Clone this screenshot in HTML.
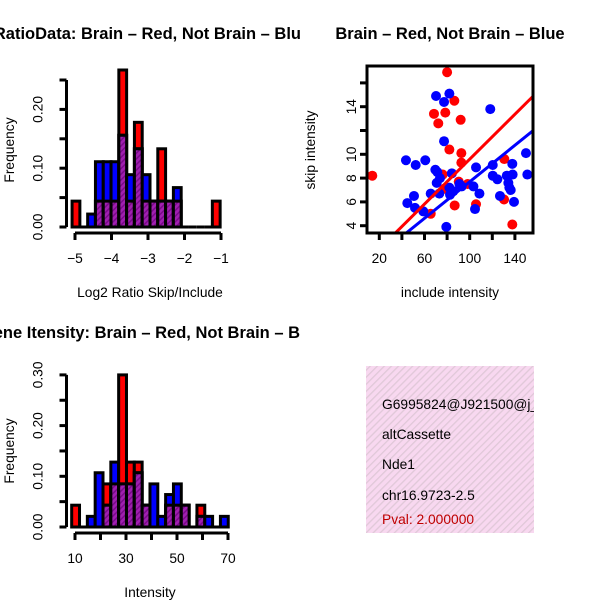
<!DOCTYPE html>
<html><head><meta charset="utf-8"><style>
html,body{margin:0;padding:0;background:#fff;}
svg{display:block;font-family:"Liberation Sans",sans-serif;}
</style></head><body>
<svg id="c" width="600" height="600" viewBox="0 0 600 600">
<defs>
<pattern id="hatchP" width="4" height="4" patternUnits="userSpaceOnUse" patternTransform="rotate(45)">
<rect width="4" height="4" fill="#a020b0"/><rect width="1.5" height="4" fill="#7a0a8a"/>
</pattern>
<pattern id="hatchPink" width="5" height="5" patternUnits="userSpaceOnUse" patternTransform="rotate(45)">
<rect width="5" height="5" fill="#f8d8f0"/><rect width="1.3" height="5" fill="#e0c8d8"/>
</pattern>
<clipPath id="scClip"><rect x="367" y="66" width="166" height="167"/></clipPath>
<clipPath id="pageClip"><rect x="0" y="0" width="600" height="600"/></clipPath>
</defs>
<text x="301" y="39" text-anchor="end" font-size="16.5" font-weight="bold">RatioData: Brain – Red, Not Brain – Blu</text>
<text x="450" y="39" text-anchor="middle" font-size="16.5" font-weight="bold">Brain – Red, Not Brain – Blue</text>
<text x="300" y="338" text-anchor="end" font-size="16.5" font-weight="bold">Gene Itensity: Brain – Red, Not Brain – B</text>
<text x="150" y="297" text-anchor="middle" font-size="13.8">Log2 Ratio Skip/Include</text>
<text x="150" y="597" text-anchor="middle" font-size="13.8">Intensity</text>
<text x="450" y="297" text-anchor="middle" font-size="13.8">include intensity</text>
<text transform="translate(14,150) rotate(-90)" text-anchor="middle" font-size="13.8">Frequency</text>
<text transform="translate(14,451) rotate(-90)" text-anchor="middle" font-size="13.8">Frequency</text>
<text transform="translate(315,150) rotate(-90)" text-anchor="middle" font-size="13.8">skip intensity</text>
<g id="g1"></g>
<g id="g2"></g>
<g id="g3"></g>
<g>
<rect x="366" y="366" width="168" height="167" fill="url(#hatchPink)"/>
<svg x="366" y="366" width="168" height="167" overflow="hidden">
<text x="16" y="43" font-size="13.8">G6995824@J921500@j_</text>
<text x="16" y="73" font-size="13.8">altCassette</text>
<text x="16" y="103" font-size="13.8">Nde1</text>
<text x="16" y="134" font-size="13.8">chr16.9723-2.5</text>
<text x="16" y="158" font-size="13.8" fill="#c00000">Pval: 2.000000</text>
</svg>
</g>
</svg>
<script>
// ---- ratio histogram data ----
const ratioBinStart = -5.08;
const ratioBinWidth = 0.2135;
const ratioRed  = [0.044,0,0,0.044,0.044,0.044,0.267,0.044,0.178,0.044,0.044,0.133,0.044,0.044,0,0,0,0,0.044];
const ratioBlue = [0,0,0.022,0.111,0.111,0.111,0.156,0.089,0.133,0.089,0.044,0.044,0.044,0.067,0,0,0,0,0];
const ratioXTicks = [-5,-4,-3,-2,-1];
const ratioXLabels = ["−5","−4","−3","−2","−1"];
const ratioYTicks = [0,0.05,0.10,0.15,0.20,0.25];
const ratioYLabels = ["0.00","","0.10","","0.20",""];
// ---- intensity histogram data ----
const intBinStart = 8.7;
const intBinWidth = 3.07;
const intRed  = [0.043,0,0,0,0.085,0.085,0.30,0.128,0.128,0.043,0,0,0.043,0.043,0.043,0,0.043,0,0,0];
const intBlue = [0,0,0.021,0.107,0.043,0.128,0.085,0.085,0.107,0.043,0.085,0.021,0.064,0.085,0.043,0,0.021,0.021,0,0.021];
const intXTicks = [10,20,30,40,50,60,70];
const intXLabels = ["10","","30","","50","","70"];
const intYTicks = [0,0.05,0.10,0.15,0.20,0.25,0.30];
const intYLabels = ["0.00","","0.10","","0.20","","0.30"];
// ---- scatter data ----
const redX = [80,86.4,68.4,78.4,72.2,92,82,92.6,92.6,13.8,76.1,90.3,98.2,86.7,105.6,130.6,130.4,137.7,65.5,77.5];
const redY = [16.9,14.5,13.4,13.5,12.6,12.9,10.4,10.1,9.3,8.2,8.3,7.7,7.5,5.7,5.8,9.6,6.2,4.1,5.0,7.1];
const blueX = [70.2,82,77.3,118.2,77.3,43.6,52.2,60.7,69.6,71.4,73.7,70.8,84.2,105.6,120.4,137.7,149.8,151,120.4,124.5,132.8,138,134.2,135.1,136.3,126.8,139.2,82,82.6,90.9,103.3,108.6,65.5,73.1,50.7,44.8,51.6,59,104.7,79.3,85.5,92.9];
const blueY = [14.9,15.1,14.4,13.8,11.1,9.5,9.1,9.5,8.7,8.5,8.0,7.6,8.4,8.9,9.1,9.2,10.1,8.3,8.2,7.9,8.2,8.3,7.6,7.2,7.0,6.5,6.0,7.2,6.6,7.5,7.3,6.7,6.7,6.7,6.5,5.9,5.5,5.2,5.4,3.9,6.9,7.3];
const redFit = [0.16,0.0943];
const blueFit = [0.02,0.0767];
const scXTicks = [20,40,60,80,100,120,140];
const scXLabels = ["20","","60","","100","","140"];
const scYTicks = [4,6,8,10,12,14,16];
const scYLabels = ["4","6","8","10","","14",""];

const NS="http://www.w3.org/2000/svg";
function mk(parent,tag,attrs){const e=document.createElementNS(NS,tag);for(const k in attrs)e.setAttribute(k,attrs[k]);parent.appendChild(e);return e;}

function hist(g,binStart,binW,red,blue,xs,ys,xTicks,xLabels,yTicks,yLabels,axisY,axisX,xLabY){
  const bars=mk(g,'g',{});
  
  
  for(let i=0;i<red.length;i++){
    const x0=xs(binStart+i*binW), x1=xs(binStart+(i+1)*binW);
    const hi=Math.max(red[i],blue[i]);
    if(red[i]>0){
      const r=mk(bars,'rect',{x:x0,y:ys(red[i]),width:x1-x0,height:ys(0)-ys(red[i]),fill:'#ff0000',stroke:'#000','stroke-width':3});
      
      
    }
    if(blue[i]>0){
      const b=mk(bars,'rect',{x:x0,y:ys(blue[i]),width:x1-x0,height:ys(0)-ys(blue[i]),fill:'#0000ff',stroke:'#000','stroke-width':3});
      
      
    }
    const lo=Math.min(red[i],blue[i]);
    if(lo>0){
      const p=mk(bars,'rect',{x:x0,y:ys(lo),width:x1-x0,height:ys(0)-ys(lo),fill:'url(#hatchP)',stroke:'#000','stroke-width':3});
      
      
    }
    if(hi===0){
      mk(bars,'line',{x1:x0,x2:x1,y1:ys(0),y2:ys(0),stroke:'#000','stroke-width':3});
    }
  }
  const ax=mk(g,'g',{});
  
  
  mk(ax,'line',{x1:axisX,x2:axisX,y1:ys(yTicks[0]),y2:ys(yTicks[yTicks.length-1]),stroke:'#000','stroke-width':3});
  yTicks.forEach((t,i)=>{
    mk(ax,'line',{x1:axisX-7,x2:axisX,y1:ys(t),y2:ys(t),stroke:'#000','stroke-width':3});
    if(yLabels[i]){const tx=mk(ax,'text',{transform:`translate(${axisX-24},${ys(t)}) rotate(-90)`,'text-anchor':'middle','font-size':13.8});tx.textContent=yLabels[i];}
  });
  const xa=mk(g,'g',{});
  
  
  mk(xa,'line',{x1:xs(xTicks[0]),x2:xs(xTicks[xTicks.length-1]),y1:axisY,y2:axisY,stroke:'#000','stroke-width':3});
  xTicks.forEach((t,i)=>{
    mk(xa,'line',{x1:xs(t),x2:xs(t),y1:axisY,y2:axisY+7,stroke:'#000','stroke-width':3});
    if(xLabels[i]){const tx=mk(xa,'text',{x:xs(t),y:xLabY,'text-anchor':'middle','font-size':13.8});tx.textContent=xLabels[i];}
  });
}
// histogram 1
const xs1=v=>75+(v+5)*36.5, ys1=v=>227-v*588;
hist(document.getElementById('g1'),ratioBinStart,ratioBinWidth,ratioRed,ratioBlue,xs1,ys1,ratioXTicks,ratioXLabels,ratioYTicks,ratioYLabels,233,66.5,263);
// histogram 2
const xs2=v=>75+(v-10)*2.55, ys2=v=>527-v*507;
hist(document.getElementById('g2'),intBinStart,intBinWidth,intRed,intBlue,xs2,ys2,intXTicks,intXLabels,intYTicks,intYLabels,533,66.5,563);

// scatter
const g3=document.getElementById('g3');
const sx=v=>379.3+(v-20)*1.13, sy=v=>225.7-(v-4)*11.9;
const pts=mk(g3,'g',{'clip-path':'url(#pageClip)'});


redX.forEach((x,i)=>{const c=mk(pts,'circle',{cx:sx(x),cy:sy(redY[i]),r:5,fill:'#ff0000'});
  
  });
blueX.forEach((x,i)=>{const c=mk(pts,'circle',{cx:sx(x),cy:sy(blueY[i]),r:5,fill:'#0000ff'});
  
  });
const lines=mk(g3,'g',{'clip-path':'url(#scClip)'});
[[redFit,'#ff0000','red-fit-line'],[blueFit,'#0000ff','blue-fit-line']].forEach(([f,col,nm])=>{
  const l=mk(lines,'line',{x1:sx(0),y1:sy(f[0]),x2:sx(170),y2:sy(f[0]+f[1]*170),stroke:col,'stroke-width':3});
  
  
});
const box=mk(g3,'rect',{x:367,y:66,width:166,height:167,fill:'none',stroke:'#000','stroke-width':3});


scXTicks.forEach((t,i)=>{
  mk(g3,'line',{x1:sx(t),x2:sx(t),y1:233,y2:240,stroke:'#000','stroke-width':3});
  if(scXLabels[i]){const tx=mk(g3,'text',{x:sx(t),y:263,'text-anchor':'middle','font-size':13.8});tx.textContent=scXLabels[i];}
});
scYTicks.forEach((t,i)=>{
  mk(g3,'line',{x1:360,x2:367,y1:sy(t),y2:sy(t),stroke:'#000','stroke-width':3});
  if(scYLabels[i]){const tx=mk(g3,'text',{transform:`translate(356,${sy(t)}) rotate(-90)`,'text-anchor':'middle','font-size':13.8});tx.textContent=scYLabels[i];}
});
</script>
</body></html>
